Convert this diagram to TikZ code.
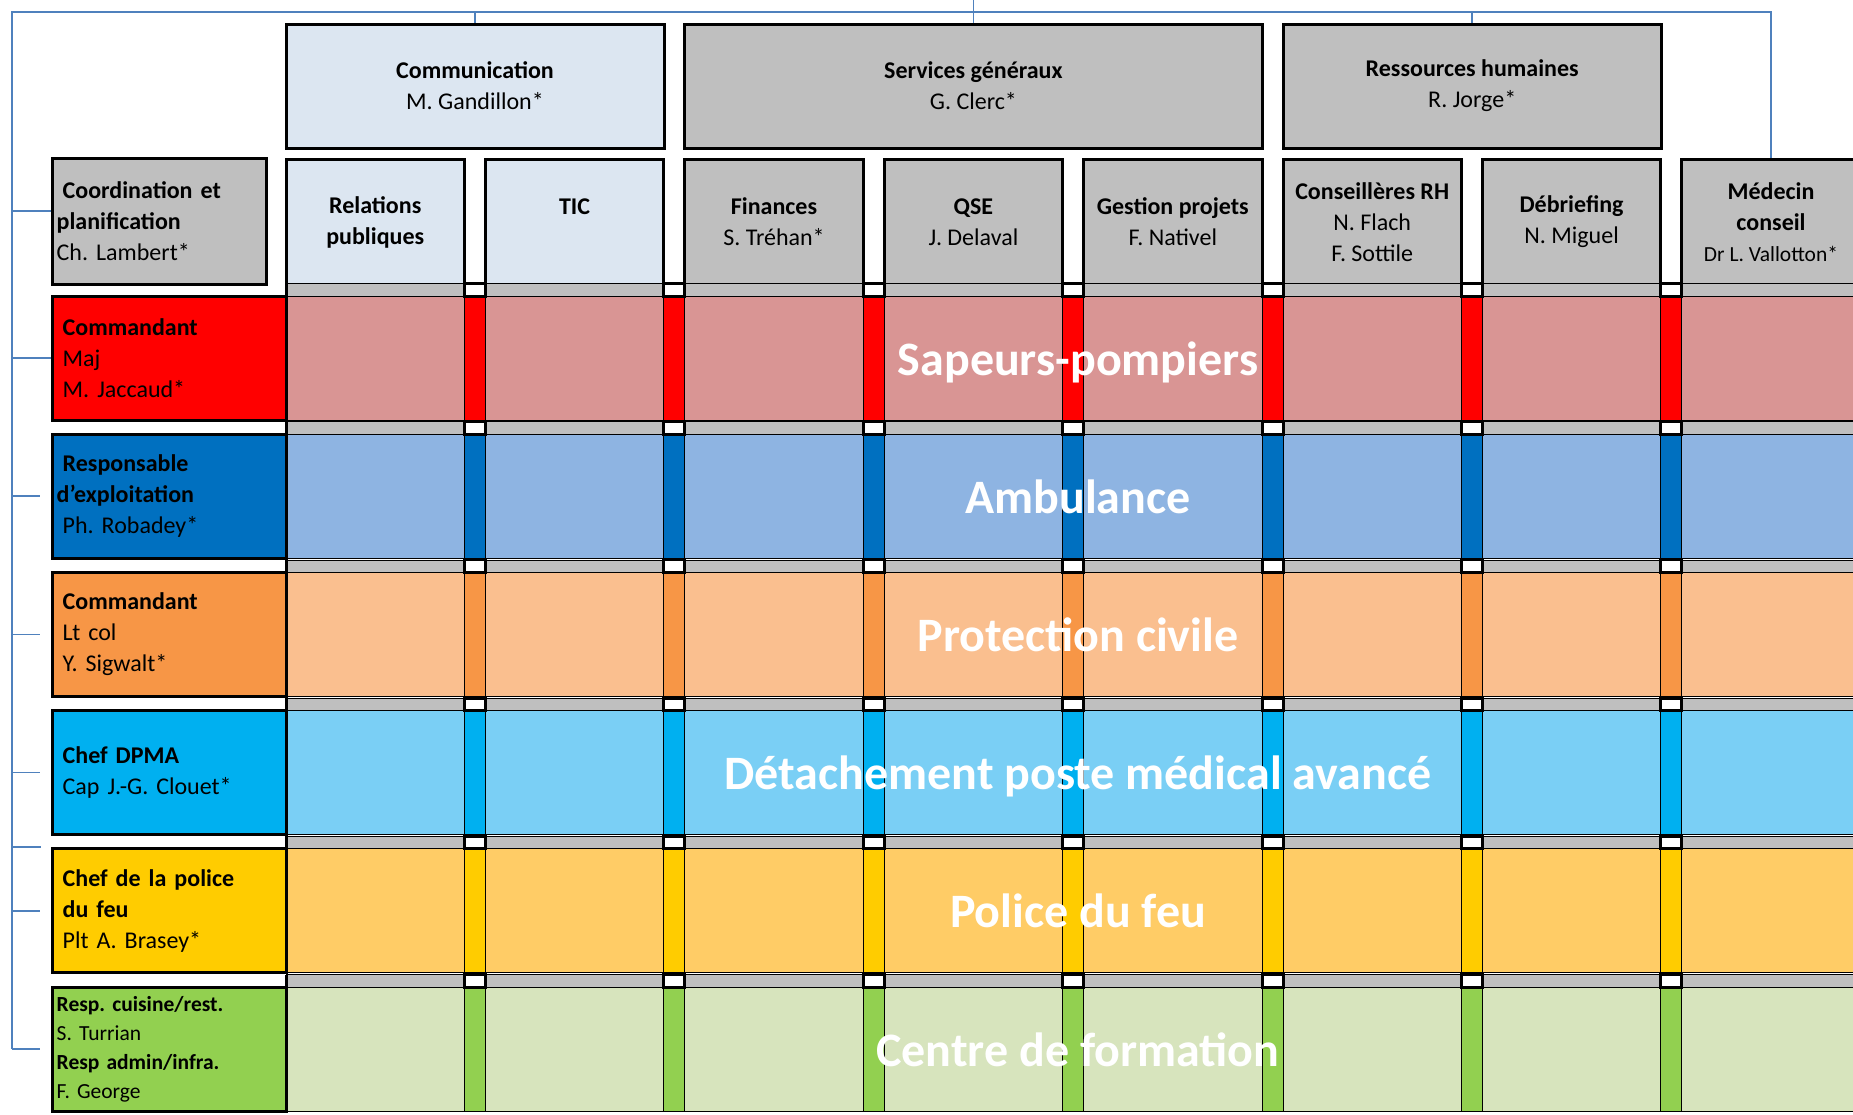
\documentclass[tikz,border=0pt]{standalone}
\usepackage{fontspec}
\setmainfont{Carlito}
\usetikzlibrary{positioning,calc}
\definecolor{sppdark}{HTML}{FF0000}
\definecolor{spplight}{HTML}{D99594}
\definecolor{ambdark}{HTML}{0070C0}
\definecolor{amblight}{HTML}{8EB4E2}
\definecolor{pcidark}{HTML}{F79646}
\definecolor{pcilight}{HTML}{FABF8F}
\definecolor{dpmadark}{HTML}{00B0F0}
\definecolor{dpmalight}{HTML}{7ACFF5}
\definecolor{pfeudark}{HTML}{FFCC00}
\definecolor{pfeulight}{HTML}{FFCC66}
\definecolor{cfordark}{HTML}{92D050}
\definecolor{cforlight}{HTML}{D7E4BD}
\definecolor{hdrgray}{HTML}{BFBFBF}
\definecolor{hdrblue}{HTML}{DCE6F1}
\definecolor{orgblue}{HTML}{4F81BD}
\newcommand{\indt}{\hspace*{6pt}}
\AtBeginDocument{\frenchspacing}

\begin{document}
\begin{tikzpicture}[x=1pt, y=-1pt,
    box/.style={draw=black, line width=3pt, align=center, inner sep=0pt,
                font=\fontsize{24}{31}\selectfont\frenchspacing},
    dept/.style={box, fill=hdrgray, minimum height=124pt},
    unit/.style={box, fill=hdrgray, minimum width=178.4pt, minimum height=126pt},
    lead/.style={box, align=left, minimum height=124pt, text width=224.6pt, inner xsep=4.7pt},
    cell/.style={draw=black, line width=0.8pt},
    plug/.style={draw=black, line width=3pt, fill=white},
    corps/.style={text=white, font=\fontsize{48}{56}\selectfont\bfseries, anchor=base},
    link/.style={draw=orgblue, line width=1.6pt}]
  \useasboundingbox (0,0) rectangle (1853,1114);
  \clip (0,0) rectangle (1853,1114);
  \fill[white] (0,0) rectangle (1853,1114);

  % directions
  \node[box, fill=hdrblue, minimum width=378pt, minimum height=124pt] (comm) at (475,86) {\textbf{Communication}\\M. Gandillon*};
  \node[dept, minimum width=577.2pt] (servgen) at (973.4,86) {\textbf{Services généraux}\\G. Clerc*};
  \node[dept, minimum width=378.4pt] (rh) at (1472.2,86) {\textbf{Ressources humaines}\\R. Jorge*};

  % services
  \node[unit, fill=hdrblue] (relpub) at (375.2,222) {\textbf{Relations}\\\textbf{publiques}};
  \node[unit, fill=hdrblue] (tic) at (574.6,222) {\textbf{TIC}\\\phantom{J. Delaval}};
  \node[unit] (fin) at (774,222) {\textbf{Finances}\\S. Tréhan*};
  \node[unit] (qse) at (973.4,222) {\textbf{QSE}\\J. Delaval};
  \node[unit] (gestproj) at (1172.8,222) {\textbf{Gestion projets}\\F. Nativel};
  \node[unit] (consrh) at (1372.2,222) {\textbf{Conseillères RH}\\N. Flach\\F. Sottile};
  \node[unit] (debrief) at (1571.6,222) {\textbf{Débriefing}\\N. Miguel};
  \node[unit] (medecin) at (1771,222) {\textbf{Médecin}\\\textbf{conseil}\\{\fontsize{21.5}{31}\selectfont Dr L. Vallotton*}};

  % bands
  \foreach \dk/\lt [count=\i from 0] in {sppdark/spplight, ambdark/amblight, pcidark/pcilight,
                                         dpmadark/dpmalight, pfeudark/pfeulight, cfordark/cforlight} {
    \pgfmathsetmacro\tp{296+138.2*\i}
    \fill[\lt] (286,\tp) rectangle (1870,{\tp+124});
    \draw[cell] (286,\tp) -- (1870,\tp) (286,{\tp+124}) -- (1870,{\tp+124});
    \draw[cell, fill=hdrgray] (286,{\tp-12.5}) rectangle (1870,\tp);
    \foreach \g in {0,...,6} {
      \pgfmathsetmacro\gl{464.4+199.4*\g}
      \draw[cell, fill=\dk] (\gl,\tp) rectangle ++(21,124);
      \draw[plug] (\gl,{\tp-12.5}) rectangle ++(21,12.5);
    }
    \draw[line width=3pt] (286,{\tp-12.5}) -- (286,\tp);
  }

  % chefs
  \node[lead, fill=hdrgray, text width=204.6pt, minimum height=126pt] (coord) at (159,221)
    {\indt\textbf{Coordination et}\\\textbf{planification}\\Ch. Lambert*};
  \node[lead, fill=sppdark] (spp) at (169,358) {\indt\textbf{Commandant}\\\indt Maj\\\indt M. Jaccaud*};
  \node[lead, fill=ambdark] (amb) at (169,496.2) {\indt\textbf{Responsable}\\\textbf{d'exploitation}\\\indt Ph. Robadey*};
  \node[lead, fill=pcidark] (pci) at (169,634.4) {\indt\textbf{Commandant}\\\indt Lt col\\\indt Y. Sigwalt*};
  \node[lead, fill=dpmadark] (dpma) at (169,772.6) {\indt\textbf{Chef DPMA}\\\indt Cap J.-G. Clouet*};
  \node[lead, fill=pfeudark] (pfeu) at (169,910.8) {\indt\textbf{Chef de la police}\\\indt\textbf{du feu}\\\indt Plt A. Brasey*};
  \node[lead, fill=cfordark, font=\fontsize{21.5}{29}\selectfont\frenchspacing] (cfor) at (169,1049)
    {\textbf{Resp. cuisine/rest.}\\S. Turrian\\\textbf{Resp admin/infra.}\\F. George};

  % corps
  \node[corps] (spplbl) at (1078,375) {Sapeurs-pompiers};
  \node[corps] (amblbl) at (1078,513.2) {Ambulance};
  \node[corps] (pcilbl) at (1078,651.4) {Protection civile};
  \node[corps] (dpmalbl) at (1078,789.6) {Détachement poste médical avancé};
  \node[corps] (pfeulbl) at (1078,927.8) {Police du feu};
  \node[corps] (cforlbl) at (1078,1066) {Centre de formation};

  % liens
  \coordinate (origin) at (12,12);
  \coordinate (pagetop) at (0,0);
  \coordinate (stub) at (41,847);
  \draw[link] (origin |- cfor.west) -- (origin) -- (origin -| medecin.north) -- (medecin.north);
  \draw[link] (origin -| comm.north) -- (comm.north);
  \draw[link] (pagetop -| servgen.north) -- (servgen.north);
  \draw[link] (origin -| rh.north) -- (rh.north);
  \draw[link] (origin |- coord.west) ++(0,-10) -- ([yshift=10pt]coord.west);
  \draw[link] (origin |- spp.west) -- (spp.west);
  \foreach \n in {amb,pci,dpma,pfeu,cfor}
    \draw[link] (origin |- \n.west) -- ([xshift=-11pt]\n.west);
  \draw[link] (origin |- stub) -- (stub);
\end{tikzpicture}
\end{document}
